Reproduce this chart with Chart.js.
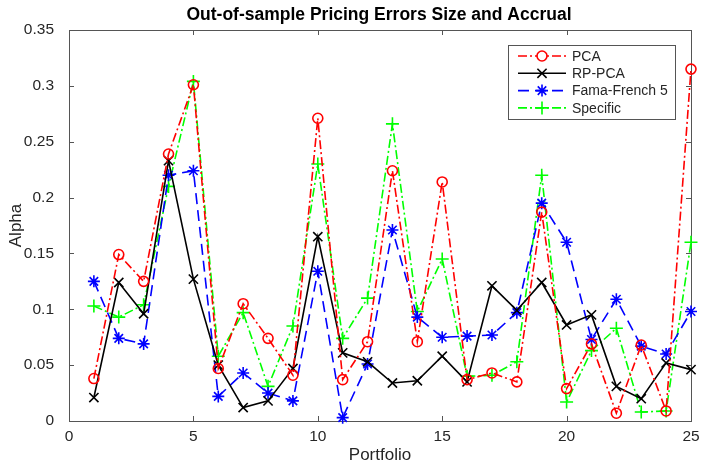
<!DOCTYPE html>
<html>
<head>
<meta charset="utf-8">
<script src="https://cdn.jsdelivr.net/npm/chart.js@4/dist/chart.umd.min.js"></script>
<style>
  html, body { margin: 0; padding: 0; background: #fff; }
  #wrap { width: 701px; height: 463px; }
</style>
</head>
<body>
<div id="wrap"><canvas id="c" width="701" height="463"></canvas></div>
<script>
// Portfolio index 1..25
const portfolios = [1,2,3,4,5,6,7,8,9,10,11,12,13,14,15,16,17,18,19,20,21,22,23,24,25];

// Out-of-sample alpha per portfolio for each model
const pca = [0.038,0.149,0.125,0.239,0.301,0.047,0.105,0.074,0.041,0.271,0.037,0.071,0.224,0.071,0.214,0.037,0.043,0.035,0.187,0.029,0.069,0.007,0.068,0.009,0.315];
const rpPca = [0.021,0.124,0.096,0.233,0.127,0.050,0.012,0.018,0.047,0.165,0.061,0.053,0.034,0.036,0.058,0.035,0.121,0.099,0.124,0.086,0.095,0.031,0.020,0.052,0.046];
const famaFrench5 = [0.125,0.074,0.069,0.220,0.224,0.022,0.043,0.025,0.018,0.134,0.003,0.051,0.171,0.093,0.075,0.076,0.077,0.097,0.195,0.160,0.073,0.109,0.067,0.060,0.098];
const specific = [0.103,0.093,0.104,0.210,0.304,0.058,0.097,0.031,0.085,0.230,0.074,0.110,0.266,0.098,0.145,0.040,0.041,0.053,0.220,0.017,0.063,0.083,0.008,0.009,0.160];

const seriesNames = ['PCA', 'RP-PCA', 'Fama-French 5', 'Specific'];
const xTicks = [0, 5, 10, 15, 20, 25];
const yTicks = [0, 0.05, 0.1, 0.15, 0.2, 0.25, 0.3, 0.35];
const yTickLabels = ['0', '0.05', '0.1', '0.15', '0.2', '0.25', '0.3', '0.35'];

const titleText = 'Out-of-sample Pricing Errors Size and Accrual';
const xTitle = 'Portfolio';
const yTitle = 'Alpha';

const FONT = '"Liberation Sans", Arial, Helvetica, sans-serif';
const TEXT = '#262626';
const AXIS = '#555555';

function toPoints(vals) {
  return vals.map((v, i) => ({ x: portfolios[i], y: v }));
}

const datasets = [
  { label: seriesNames[0], data: toPoints(pca), borderColor: '#ff0000', borderDash: [9, 3, 2, 3],
    pointStyle: 'circle', pointRadius: 5, pointBackgroundColor: 'rgba(0,0,0,0)' },
  { label: seriesNames[1], data: toPoints(rpPca), borderColor: '#000000', borderDash: [],
    pointStyle: 'crossRot', pointRadius: 6.5 },
  { label: seriesNames[2], data: toPoints(famaFrench5), borderColor: '#0000ff', borderDash: [11, 6],
    pointStyle: 'star', pointRadius: 6 },
  { label: seriesNames[3], data: toPoints(specific), borderColor: '#00ff00', borderDash: [9, 3, 2, 3],
    pointStyle: 'cross', pointRadius: 6.5 }
].map(d => Object.assign({
  borderWidth: 1.6, pointBorderColor: d.borderColor, pointBorderWidth: 1.6,
  pointHoverRadius: d.pointRadius, tension: 0, fill: false, clip: false
}, d));

// Box, inward ticks, titles and legend in a MATLAB-like style
const decorations = {
  id: 'decorations',
  beforeDatasetsDraw(chart) {
    const { ctx, chartArea: a, scales } = chart;
    const xs = scales.x, ys = scales.y;
    ctx.save();
    ctx.strokeStyle = AXIS;
    ctx.lineWidth = 1;
    ctx.strokeRect(Math.round(a.left) + 0.5, Math.round(a.top) + 0.5,
                   Math.round(a.right - a.left), Math.round(a.bottom - a.top));
    const tl = 5;
    ctx.beginPath();
    xTicks.forEach(t => {
      const px = Math.round(xs.getPixelForValue(t)) + 0.5;
      ctx.moveTo(px, a.bottom); ctx.lineTo(px, a.bottom - tl);
      ctx.moveTo(px, a.top); ctx.lineTo(px, a.top + tl);
    });
    yTicks.forEach(t => {
      const py = Math.round(ys.getPixelForValue(t)) + 0.5;
      ctx.moveTo(a.left, py); ctx.lineTo(a.left + tl, py);
      ctx.moveTo(a.right, py); ctx.lineTo(a.right - tl, py);
    });
    ctx.stroke();
    ctx.restore();
  },
  afterDraw(chart) {
    const { ctx, chartArea: a } = chart;
    ctx.save();
    // Titles
    const cx = (a.left + a.right) / 2;
    ctx.fillStyle = '#000';
    ctx.textAlign = 'center';
    ctx.textBaseline = 'middle';
    ctx.font = 'bold 17.5px ' + FONT;
    ctx.fillText(titleText, cx - 1, 15);
    ctx.fillStyle = TEXT;
    ctx.font = '17px ' + FONT;
    ctx.fillText(xTitle, cx, 455);
    ctx.save();
    ctx.translate(16, (a.top + a.bottom) / 2);
    ctx.rotate(-Math.PI / 2);
    ctx.fillText(yTitle, 0, 0);
    ctx.restore();

    // Legend
    const lx = 508, ly = 45, lw = 167, lh = 74;
    ctx.fillStyle = '#fff';
    ctx.fillRect(lx, ly, lw, lh);
    ctx.strokeStyle = AXIS;
    ctx.lineWidth = 1;
    ctx.strokeRect(lx + 0.5, ly + 0.5, lw, lh);
    ctx.font = '14px ' + FONT;
    ctx.textAlign = 'left';
    chart.data.datasets.forEach((d, i) => {
      const y = ly + 11 + i * 17.3;
      ctx.strokeStyle = d.borderColor;
      ctx.lineWidth = d.borderWidth;
      ctx.setLineDash(d.borderDash);
      ctx.beginPath();
      ctx.moveTo(lx + 10, y); ctx.lineTo(lx + 58, y);
      ctx.stroke();
      ctx.setLineDash([]);
      Chart.helpers.drawPoint(ctx, {
        pointStyle: d.pointStyle, radius: d.pointRadius, rotation: 0, borderWidth: d.pointBorderWidth
      }, lx + 34, y);
      ctx.fillStyle = TEXT;
      ctx.fillText(d.label, lx + 64, y + 1);
    });
    ctx.restore();
  }
};

new Chart(document.getElementById('c'), {
  type: 'line',
  data: { datasets },
  options: {
    responsive: false,
    animation: false,
    devicePixelRatio: 1,
    layout: { padding: { top: 30, right: 10, left: 0, bottom: 0 } },
    plugins: { legend: { display: false }, title: { display: false }, tooltip: { enabled: false } },
    scales: {
      x: {
        type: 'linear', min: 0, max: 25,
        afterFit(s) { s.height = 42; },
        afterBuildTicks(s) { s.ticks = xTicks.map(v => ({ value: v })); },
        grid: { display: false }, border: { display: false },
        ticks: { color: TEXT, font: { family: FONT, size: 15.5 }, padding: -2, maxRotation: 0,
                 callback: v => String(v) }
      },
      y: {
        type: 'linear', min: 0, max: 0.35,
        afterFit(s) { s.width = 69; },
        afterBuildTicks(s) { s.ticks = yTicks.map(v => ({ value: v })); },
        grid: { display: false }, border: { display: false },
        ticks: { color: TEXT, font: { family: FONT, size: 15.5 }, padding: 7,
                 callback: v => yTickLabels[yTicks.findIndex(t => Math.abs(t - v) < 1e-9)] }
      }
    }
  },
  plugins: [decorations]
});
</script>
</body>
</html>
